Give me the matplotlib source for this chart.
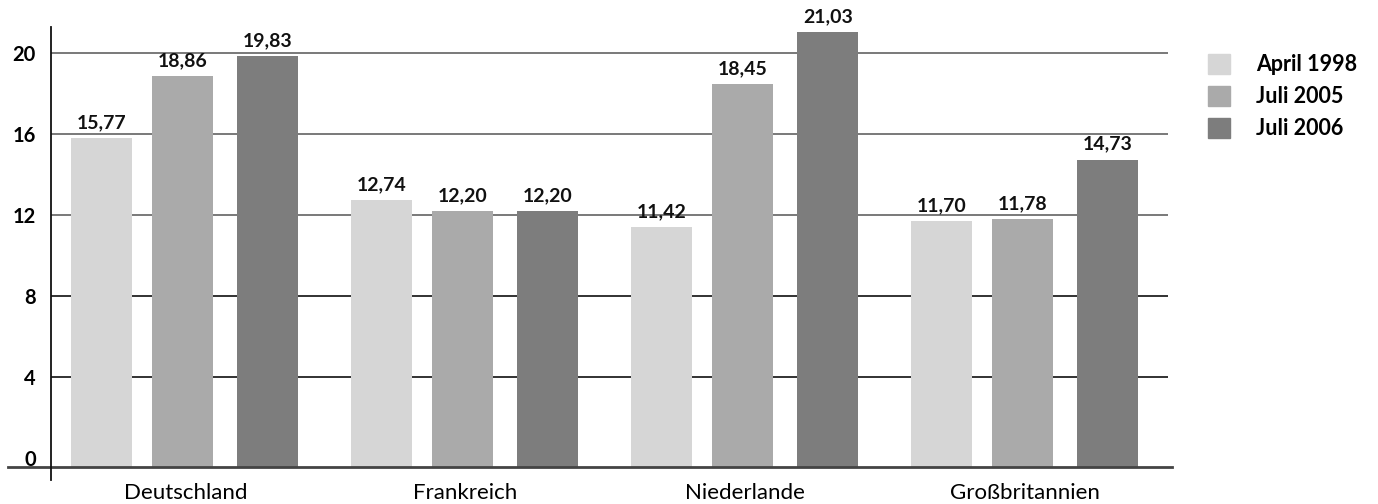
import matplotlib.pyplot as plt
import numpy as np
from matplotlib.patches import Patch

plt.rcParams['font.family'] = ['Lato', 'DejaVu Sans']

# Daten aus dem Diagramm
laender = ['Deutschland', 'Frankreich', 'Niederlande', 'Großbritannien']
serien = ['April 1998', 'Juli 2005', 'Juli 2006']
april_1998 = [15.77, 12.74, 11.42, 11.70]
juli_2005 = [18.86, 12.20, 18.45, 11.78]
juli_2006 = [19.83, 12.20, 21.03, 14.73]
y_ticks = [0, 4, 8, 12, 16, 20]

farben = ['#d6d6d6', '#aaaaaa', '#7d7d7d']
versatz = [-0.29, 0.0, 0.305]
breite = 0.218
basis = -0.45

fig = plt.figure(figsize=(13.78, 5.04), dpi=100)
ax = fig.add_axes([51 / 1378, (504 - 467.4) / 504, (1168 - 51) / 1378, 467.4 / 504])
ax.set_xlim(-0.47, 3.52)
ax.set_ylim(basis, 22.6)

# Gitterlinien (unten dunkler als oben, wie im Original)
for t in y_ticks[1:]:
    farbe = '#222222' if t <= 8 else '#6e6e6e'
    ax.axhline(t, color=farbe, lw=1.3, zorder=1)

x = np.arange(len(laender))
for werte, farbe, dx in zip([april_1998, juli_2005, juli_2006], farben, versatz):
    werte = np.array(werte)
    ax.bar(x + dx, werte - basis, bottom=basis, width=breite, color=farbe, zorder=2)
    for xi, v in zip(x + dx, werte):
        ax.annotate(f'{v:.2f}'.replace('.', ','), (xi, v), xytext=(0, 5),
                    textcoords='offset points', ha='center', va='bottom',
                    fontsize=14, fontweight='bold', color='#111111')

# Achsenlinien selbst zeichnen
for s in ax.spines.values():
    s.set_visible(False)
tr = ax.get_yaxis_transform()
ax.plot([-0.0385, 1.004], [basis, basis], transform=tr, color='#444444', lw=2, clip_on=False, zorder=3)
ax.plot([0, 0], [-1.07, 21.25], transform=tr, color='#111111', lw=1.3, clip_on=False, zorder=3)

ax.set_yticks(y_ticks)
ax.set_yticklabels([str(t) for t in y_ticks], fontweight='bold', fontsize=14.5)
ax.tick_params(axis='y', length=0, pad=11)
ax.set_xticks(x + 0.01)
ax.set_xticklabels(laender, fontsize=16)
ax.tick_params(axis='x', length=0, pad=11)

handles = [Patch(color=f) for f in farben]
fig.legend(handles, serien, loc='upper left', bbox_to_anchor=(1197 / 1378, 1 - 43 / 504),
           frameon=False, borderpad=0, handlelength=1.05, handleheight=1.05,
           handletextpad=1.2, labelspacing=0.5,
           prop={'weight': 'bold', 'size': 15.5})

plt.savefig('out.png', dpi=100)
